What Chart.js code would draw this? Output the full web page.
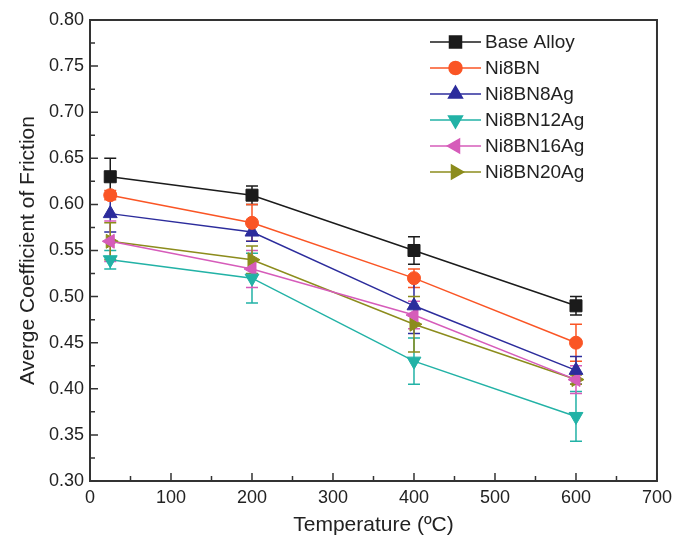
<!DOCTYPE html>
<html lang="en">
  <head>
    <meta charset="utf-8" />
    <title>Friction vs Temperature</title>
    <style>
      body { margin: 0; background: #fff; }
      .chart-wrapper { width: 678px; height: 547px; }
    </style>
  </head>
  <body>
    <div class="chart-wrapper">
      <canvas id="friction-chart"></canvas>
    </div>

    <script src="https://cdn.jsdelivr.net/npm/chart.js@4.4.0/dist/chart.umd.min.js"></script>
    <script>
      // data
      const temps = [25, 200, 400, 600];
      const seriesNames = ["Base Alloy", "Ni8BN", "Ni8BN8Ag", "Ni8BN12Ag", "Ni8BN16Ag", "Ni8BN20Ag"];
      const baseAlloy = [0.63, 0.61, 0.55, 0.49];
      const ni8bn = [0.61, 0.58, 0.52, 0.45];
      const ni8bn8ag = [0.59, 0.57, 0.49, 0.42];
      const ni8bn12ag = [0.54, 0.52, 0.43, 0.37];
      const ni8bn16ag = [0.56, 0.53, 0.48, 0.41];
      const ni8bn20ag = [0.56, 0.54, 0.47, 0.41];
      // error bar half widths
      const baseAlloyErr = [0.02, 0.01, 0.015, 0.01];
      const ni8bnErr = [0.005, 0.02, 0.01, 0.02];
      const ni8bn8agErr = [0.02, 0.01, 0.03, 0.015];
      const ni8bn12agErr = [0.01, 0.027, 0.025, 0.027];
      const ni8bn16agErr = [0.022, 0.02, 0.015, 0.015];
      const ni8bn20agErr = [0.02, 0.015, 0.03, 0.005];
      const xTicks = [0, 100, 200, 300, 400, 500, 600, 700];
      const yTicks = [0.3, 0.35, 0.4, 0.45, 0.5, 0.55, 0.6, 0.65, 0.7, 0.75, 0.8];

      const FONT = "'Liberation Sans', Arial, sans-serif";
      const AXIS = "#333";

      function series(label, values, errs, color, style, rot, radius) {
        return {
          label: label,
          data: temps.map((t, i) => ({ x: t, y: values[i] })),
          errors: errs,
          borderColor: color,
          backgroundColor: color,
          borderWidth: 1.5,
          pointStyle: style,
          rotation: rot,
          pointRadius: radius,
          pointHoverRadius: radius,
          pointBorderWidth: 1,
          tension: 0,
        };
      }

      const datasets = [
        series(seriesNames[0], baseAlloy, baseAlloyErr, "#1b1b1b", "rect", 0, 8.5),
        series(seriesNames[1], ni8bn, ni8bnErr, "#fa5525", "circle", 0, 6.5),
        series(seriesNames[2], ni8bn8ag, ni8bn8agErr, "#2c2c9c", "triangle", 0, 8),
        series(seriesNames[3], ni8bn12ag, ni8bn12agErr, "#22b2a6", "triangle", 180, 8),
        series(seriesNames[4], ni8bn16ag, ni8bn16agErr, "#d65cba", "triangle", -90, 8),
        series(seriesNames[5], ni8bn20ag, ni8bn20agErr, "#8c8c1c", "triangle", 90, 8),
      ];

      // error bars drawn under the markers
      const errorBars = {
        id: "errorBars",
        beforeDatasetsDraw(chart) {
          const ctx = chart.ctx;
          const y = chart.scales.y;
          chart.data.datasets.forEach((ds, i) => {
            const meta = chart.getDatasetMeta(i);
            ctx.save();
            ctx.strokeStyle = ds.borderColor;
            ctx.lineWidth = 1.5;
            meta.data.forEach((pt, j) => {
              const v = ds.data[j].y;
              const e = ds.errors[j];
              const top = y.getPixelForValue(v + e);
              const bot = y.getPixelForValue(v - e);
              ctx.beginPath();
              ctx.moveTo(pt.x, top);
              ctx.lineTo(pt.x, bot);
              ctx.moveTo(pt.x - 6, top);
              ctx.lineTo(pt.x + 6, top);
              ctx.moveTo(pt.x - 6, bot);
              ctx.lineTo(pt.x + 6, bot);
              ctx.stroke();
            });
            ctx.restore();
          });
        },
      };

      // frame plus inward ticks (major and minor)
      const frame = {
        id: "frame",
        afterDraw(chart) {
          const ctx = chart.ctx;
          const a = chart.chartArea;
          const xs = chart.scales.x;
          const ys = chart.scales.y;
          ctx.save();
          ctx.strokeStyle = AXIS;
          ctx.lineWidth = 2;
          ctx.strokeRect(a.left, a.top, a.right - a.left, a.bottom - a.top);
          ctx.lineWidth = 1.5;
          ctx.beginPath();
          for (let i = 0; i < xTicks.length; i++) {
            const px = xs.getPixelForValue(xTicks[i]);
            ctx.moveTo(px, a.bottom);
            ctx.lineTo(px, a.bottom - 8);
            if (i < xTicks.length - 1) {
              const mx = xs.getPixelForValue((xTicks[i] + xTicks[i + 1]) / 2);
              ctx.moveTo(mx, a.bottom);
              ctx.lineTo(mx, a.bottom - 5);
            }
          }
          for (let i = 0; i < yTicks.length; i++) {
            const py = ys.getPixelForValue(yTicks[i]);
            ctx.moveTo(a.left, py);
            ctx.lineTo(a.left + 8, py);
            if (i < yTicks.length - 1) {
              const my = ys.getPixelForValue((yTicks[i] + yTicks[i + 1]) / 2);
              ctx.moveTo(a.left, my);
              ctx.lineTo(a.left + 5, my);
            }
          }
          ctx.stroke();
          ctx.restore();
        },
      };

      // legend inside the plot, top right
      const insideLegend = {
        id: "insideLegend",
        afterDraw(chart) {
          const ctx = chart.ctx;
          const x0 = 430, x1 = 481, tx = 485;
          ctx.save();
          ctx.font = "19px " + FONT;
          ctx.textBaseline = "middle";
          chart.data.datasets.forEach((ds, i) => {
            const yy = 42 + i * 26;
            ctx.strokeStyle = ds.borderColor;
            ctx.lineWidth = 1.5;
            ctx.beginPath();
            ctx.moveTo(x0, yy);
            ctx.lineTo(x1, yy);
            ctx.stroke();
            ctx.fillStyle = ds.backgroundColor;
            Chart.helpers.drawPoint(ctx, {
              pointStyle: ds.pointStyle,
              rotation: ds.rotation,
              radius: ds.pointRadius,
              borderWidth: 1,
            }, (x0 + x1) / 2, yy);
            ctx.fillStyle = "#222";
            ctx.fillText(ds.label, tx, yy + 1);
          });
          ctx.restore();
        },
      };

      const context = document.getElementById("friction-chart").getContext("2d");
      const myChart = new Chart(context, {
        type: "line",
        data: { datasets: datasets },
        options: {
          responsive: true,
          maintainAspectRatio: false,
          animation: false,
          layout: { padding: { top: 20, right: 19, left: 16, bottom: 9 } },
          plugins: {
            legend: { display: false },
            tooltip: { enabled: false },
          },
          scales: {
            x: {
              type: "linear",
              min: 0,
              max: 700,
              afterFit(scale) { scale.height = 57; },
              afterBuildTicks(scale) { scale.ticks = xTicks.map((v) => ({ value: v })); },
              grid: { display: false, drawTicks: false },
              border: { display: false },
              ticks: { color: "#222", padding: 6, font: { family: FONT, size: 18 } },
              title: {
                display: true,
                text: "Temperature (ºC)",
                color: "#222",
                padding: { top: 4, bottom: 0 },
                font: { family: FONT, size: 21 },
              },
            },
            y: {
              min: 0.3,
              max: 0.8,
              afterFit(scale) { scale.width = 74; },
              afterBuildTicks(scale) { scale.ticks = yTicks.map((v) => ({ value: v })); },
              grid: { display: false, drawTicks: false },
              border: { display: false },
              ticks: {
                color: "#222",
                padding: 6,
                font: { family: FONT, size: 18 },
                callback: (v) => Number(v).toFixed(2),
              },
              title: {
                display: true,
                text: "Averge Coefficient of Friction",
                color: "#222",
                padding: { top: 0, bottom: 4 },
                font: { family: FONT, size: 21 },
              },
            },
          },
        },
        plugins: [errorBars, frame, insideLegend],
      });
    </script>
  </body>
</html>
